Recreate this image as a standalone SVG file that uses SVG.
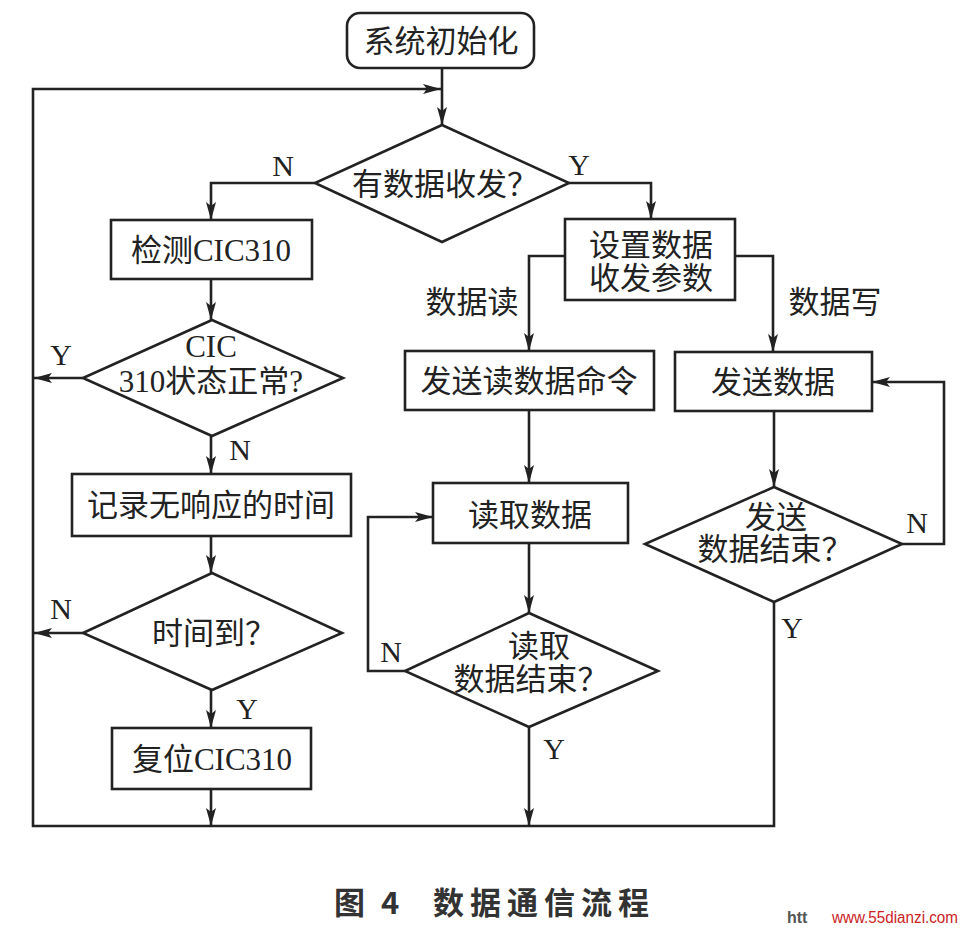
<svg xmlns="http://www.w3.org/2000/svg" width="967" height="931" viewBox="0 0 967 931">
<style>
.shape{fill:none;stroke:#222;stroke-width:2.6}
.conn{fill:none;stroke:#222;stroke-width:2.6}
.t{font-family:"Liberation Serif","Noto Sans CJK SC",serif;font-size:31px;fill:#222;text-anchor:middle;dominant-baseline:central}
.lbl{font-family:"Liberation Serif","Noto Sans CJK SC",serif;font-size:30px;fill:#222;text-anchor:middle;dominant-baseline:central}
.cap{font-family:"Noto Sans CJK SC",sans-serif;font-size:31px;font-weight:bold;fill:#333;dominant-baseline:central}
</style>
<defs>
<marker id="ah" viewBox="0 0 18 10" refX="18" refY="5" markerWidth="18" markerHeight="10" markerUnits="userSpaceOnUse" orient="auto">
<path d="M0,0 L18,5 L0,10 L4,5 z" fill="#222"/>
</marker>
</defs>
<rect width="967" height="931" fill="#fff"/>

<g id="connectors">
<path class="conn" d="M442,68 V125" marker-end="url(#ah)"/>
<path class="conn" d="M774,603 V826 H33 V89 H441" marker-end="url(#ah)"/>
<path class="conn" d="M315,183 H211 V220" marker-end="url(#ah)"/>
<path class="conn" d="M569,183 H651 V219" marker-end="url(#ah)"/>
<path class="conn" d="M211,279 V320" marker-end="url(#ah)"/>
<path class="conn" d="M83,378 H34" marker-end="url(#ah)"/>
<path class="conn" d="M211,436 V474" marker-end="url(#ah)"/>
<path class="conn" d="M211,536 V573" marker-end="url(#ah)"/>
<path class="conn" d="M83,633 H34" marker-end="url(#ah)"/>
<path class="conn" d="M211,690 V728" marker-end="url(#ah)"/>
<path class="conn" d="M211,789 V826" marker-end="url(#ah)"/>
<path class="conn" d="M565,256 H529 V351" marker-end="url(#ah)"/>
<path class="conn" d="M735,256 H773 V352" marker-end="url(#ah)"/>
<path class="conn" d="M529,410 V483" marker-end="url(#ah)"/>
<path class="conn" d="M529,543 V613" marker-end="url(#ah)"/>
<path class="conn" d="M405,671 H368 V517 H433" marker-end="url(#ah)"/>
<path class="conn" d="M529,727 V826" marker-end="url(#ah)"/>
<path class="conn" d="M774,411 V487" marker-end="url(#ah)"/>
<path class="conn" d="M902,544 H944 V382 H872" marker-end="url(#ah)"/>
<text class="lbl" x="283" y="165">N</text>
<text class="lbl" x="579" y="164">Y</text>
<text class="t" x="472" y="302">数据读</text>
<text class="t" x="835" y="302">数据写</text>
<text class="lbl" x="61" y="354">Y</text>
<text class="lbl" x="240" y="449">N</text>
<text class="lbl" x="61" y="608">N</text>
<text class="lbl" x="247" y="708">Y</text>
<text class="lbl" x="391" y="651">N</text>
<text class="lbl" x="554" y="748">Y</text>
<text class="lbl" x="917" y="522">N</text>
<text class="lbl" x="792" y="627">Y</text>
</g>

<g id="start">
<rect class="shape" x="347" y="13" width="187" height="55" rx="13"/>
<text class="t" x="441" y="41">系统初始化</text>
</g>

<g id="d_data">
<polygon class="shape" points="442,125 569,183 442,242 315,183"/>
<text class="t" x="445" y="184">有数据收发？</text>
</g>

<g id="detect">
<rect class="shape" x="111" y="220" width="201" height="59"/>
<text class="t" x="211" y="250">检测CIC310</text>
</g>

<g id="d_status">
<polygon class="shape" points="212,320 343,378 212,436 83,378"/>
<text class="t" x="211" y="346" font-size="30">CIC</text>
<text class="t" x="211" y="381" font-size="30">310状态正常?</text>
</g>

<g id="record">
<rect class="shape" x="72" y="474" width="279" height="62"/>
<text class="t" x="211" y="505">记录无响应的时间</text>
</g>

<g id="d_time">
<polygon class="shape" points="212,573 342,633 212,690 83,633"/>
<text class="t" x="214" y="633">时间到？</text>
</g>

<g id="reset">
<rect class="shape" x="112" y="728" width="199" height="61"/>
<text class="t" x="212" y="759">复位CIC310</text>
</g>

<g id="setup">
<rect class="shape" x="565" y="219" width="170" height="81"/>
<text class="t" x="651" y="245">设置数据</text>
<text class="t" x="651" y="278">收发参数</text>
</g>

<g id="send_read">
<rect class="shape" x="405" y="351" width="249" height="59"/>
<text class="t" x="529" y="381">发送读数据命令</text>
</g>

<g id="send_data">
<rect class="shape" x="675" y="352" width="197" height="59"/>
<text class="t" x="773" y="382">发送数据</text>
</g>

<g id="read_data">
<rect class="shape" x="433" y="483" width="195" height="60"/>
<text class="t" x="530" y="515">读取数据</text>
</g>

<g id="d_read_end">
<polygon class="shape" points="529,613 658,671 529,727 405,671"/>
<text class="t" x="539" y="646">读取</text>
<text class="t" x="531" y="679">数据结束？</text>
</g>

<g id="d_send_end">
<polygon class="shape" points="774,487 902,544 774,602 645,544"/>
<text class="t" x="776" y="517">发送</text>
<text class="t" x="775" y="549">数据结束？</text>
</g>

<text class="cap" x="334" y="900">图</text>
<text class="cap" x="381" y="900">4</text>
<text class="cap" x="433" y="900" letter-spacing="6">数据通信流程</text>
<text x="787" y="923" font-family="Liberation Sans,sans-serif" font-size="16" font-weight="bold" fill="#555">htt</text>
<text x="832" y="923" font-family="Liberation Sans,sans-serif" font-size="16" fill="#cc2222" textLength="126" lengthAdjust="spacingAndGlyphs">www.55dianzi.com</text>
</svg>
